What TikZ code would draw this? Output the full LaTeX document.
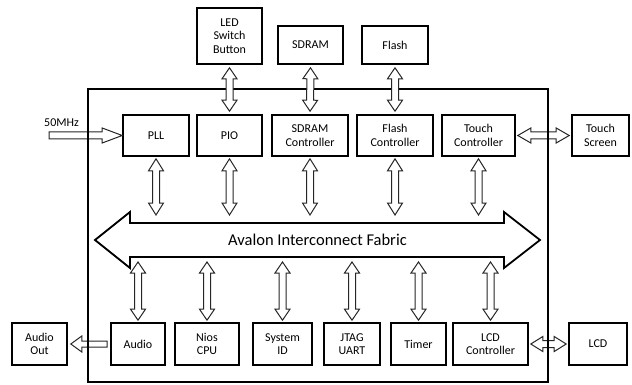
\documentclass[tikz,border=0pt]{standalone}
\usepackage{fontspec}
\setmainfont{Carlito}
\usetikzlibrary{calc}

% sizes of the hollow block arrows
\def\fgap{2pt}
\def\fhead{11pt}
\def\fhalf{7.5pt}
\def\fshaft{3.5pt}

\tikzset{
  box/.style={draw, line width=1.6pt, minimum height=41pt, align=center,
    inner sep=1pt, font=\fontsize{12}{13.5}\selectfont},
  frame/.style={line width=1.4pt},
  bus/.style={line width=1.8pt, line join=miter},
  fat gap/.code={\def\fgap{#1}},
  fat head/.code={\def\fhead{#1}},
  fat half/.code={\def\fhalf{#1}},
  fat shaft/.code={\def\fshaft{#1}},
  fat/.style={draw=black!85, line width=1pt, fill=white, to path={
    ($(\tikztostart)!\fgap!(\tikztotarget)$)
    -- ($(\tikztostart)!\fgap+\fhead!(\tikztotarget)!\fhalf!90:(\tikztotarget)$)
    -- ($(\tikztostart)!\fgap+\fhead!(\tikztotarget)!\fshaft!90:(\tikztotarget)$)
    -- ($(\tikztotarget)!\fgap+\fhead!(\tikztostart)!\fshaft!-90:(\tikztostart)$)
    -- ($(\tikztotarget)!\fgap+\fhead!(\tikztostart)!\fhalf!-90:(\tikztostart)$)
    -- ($(\tikztotarget)!\fgap!(\tikztostart)$)
    -- ($(\tikztotarget)!\fgap+\fhead!(\tikztostart)!\fhalf!90:(\tikztostart)$)
    -- ($(\tikztotarget)!\fgap+\fhead!(\tikztostart)!\fshaft!90:(\tikztostart)$)
    -- ($(\tikztostart)!\fgap+\fhead!(\tikztotarget)!\fshaft!-90:(\tikztotarget)$)
    -- ($(\tikztostart)!\fgap+\fhead!(\tikztotarget)!\fhalf!-90:(\tikztotarget)$)
    -- cycle}},
  fatone/.style={draw=black!85, line width=1pt, fill=white, to path={
    ($(\tikztostart)!\fgap!(\tikztotarget)!\fshaft!90:(\tikztotarget)$)
    -- ($(\tikztotarget)!\fgap+\fhead!(\tikztostart)!\fshaft!-90:(\tikztostart)$)
    -- ($(\tikztotarget)!\fgap+\fhead!(\tikztostart)!\fhalf!-90:(\tikztostart)$)
    -- ($(\tikztotarget)!\fgap!(\tikztostart)$)
    -- ($(\tikztotarget)!\fgap+\fhead!(\tikztostart)!\fhalf!90:(\tikztostart)$)
    -- ($(\tikztotarget)!\fgap+\fhead!(\tikztostart)!\fshaft!90:(\tikztostart)$)
    -- ($(\tikztostart)!\fgap!(\tikztotarget)!\fshaft!-90:(\tikztotarget)$)
    -- cycle}},
}

\begin{document}
\begin{tikzpicture}[x=1pt,y=-1pt]
  \useasboundingbox (0,0) rectangle (632,385);

  % outside, on top
  \node[box, minimum width=65pt, minimum height=56pt] (led) at (229.5,36) {LED\\Switch\\Button};
  \node[box, minimum width=65pt, minimum height=38pt] (sdram) at (310.5,45) {SDRAM};
  \node[box, minimum width=66pt, minimum height=38pt] (flash) at (395,45) {Flash};

  % upper row
  \node[box, minimum width=66pt] (pll) at (156,135.5) {PLL};
  \node[box, minimum width=65pt] (pio) at (229.5,135.5) {PIO};
  \node[box, minimum width=76pt] (sdramc) at (310,135.5) {SDRAM\\Controller};
  \node[box, minimum width=76pt] (flashc) at (395,135.5) {Flash\\Controller};
  \node[box, minimum width=73pt] (touchc) at (478.5,135.5) {Touch\\Controller};
  \node[box, minimum width=57pt] (touchs) at (600.5,135.5) {Touch\\Screen};

  % lower row
  \node[box, minimum width=55pt, minimum height=42pt] (audioout) at (39.5,344) {Audio\\Out};
  \node[box, minimum width=54pt, minimum height=42pt] (audio) at (138,344) {Audio};
  \node[box, minimum width=64pt, minimum height=42pt] (nios) at (207,344) {Nios\\CPU};
  \node[box, minimum width=59pt, minimum height=42pt] (sysid) at (282.5,344) {System\\ID};
  \node[box, minimum width=56pt, minimum height=42pt] (jtag) at (352,344) {JTAG\\UART};
  \node[box, minimum width=55pt, minimum height=42pt] (timer) at (418.5,344) {Timer};
  \node[box, minimum width=75pt, minimum height=42pt] (lcdc) at (490.5,344) {LCD\\Controller};
  \node[box, minimum width=58pt, minimum height=42pt] (lcd) at (598,344) {LCD};

  % clock in
  \coordinate (clk) at (49,135.5);
  \node[font=\fontsize{12}{13}\selectfont] (mhz) at (61.5,123) {50MHz};
  \draw[fatone, fat gap=0pt, fat head=20pt] (clk) to (pll.west);

  % sideways arrows (under the frame)
  \draw[fat, fat head=13pt] (touchc.east) to (touchs.west);
  \draw[fat, fat head=12pt] (lcdc.east) to (lcd.west);
  \draw[fatone, fat gap=3pt, fat half=8pt, fat shaft=3pt] (audio.west) to (audioout.east);

  % FPGA frame
  \draw[frame] (88,89) rectangle (548,382);

  % bus
  \draw[bus] (95,240) -- (130,212) -- (130,223) -- (504,223) -- (504,212) -- (540,240)
    -- (504,268) -- (504,257) -- (130,257) -- (130,268) -- cycle;
  \node[font=\fontsize{16.5}{18}\selectfont] (fabric) at (317.5,240) {Avalon Interconnect Fabric};
  \coordinate (bt) at (318,217);
  \coordinate (bb) at (318,260);

  % arrows
  \draw[fat, fat gap=3pt] (led.south) to (pio.north);
  \draw[fat, fat gap=3pt] (sdram.south) to (sdramc.north);
  \draw[fat, fat gap=3pt] (flash.south) to (flashc.north);
  \foreach \n in {pll,pio,sdramc,flashc,touchc}
    \draw[fat, fat head=12pt] (\n.south) to (\n.south |- bt);
  \foreach \n in {audio,nios,sysid,jtag,timer,lcdc}
    \draw[fat] (\n.north) to (\n.north |- bb);
\end{tikzpicture}
\end{document}
